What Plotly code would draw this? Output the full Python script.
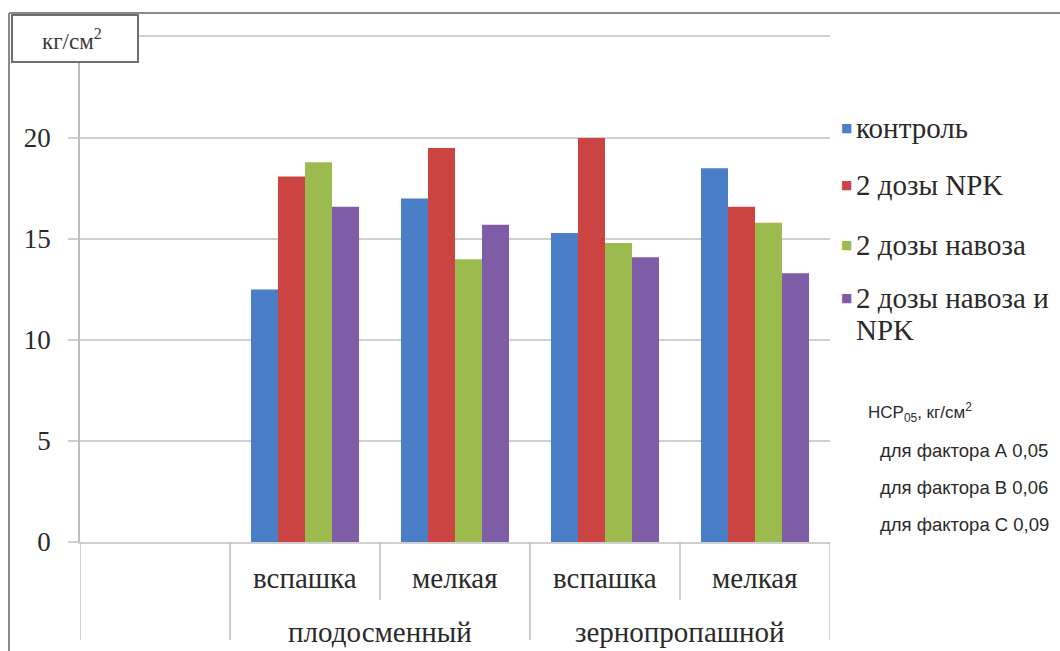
import numpy as np
import plotly.graph_objects as go

# data (кг/см2)
series = ["контроль", "2 дозы NPK", "2 дозы навоза", "2 дозы навоза и", "NPK"]
colors = ["#4A7EC6", "#CC4441", "#9CBB4E", "#7F5CA6"]
tillage = ["вспашка", "мелкая", "вспашка", "мелкая"]
rotation = ["плодосменный", "зернопропашной"]
kontrol = [12.5, 17.0, 15.3, 18.5]
npk2 = [18.1, 19.5, 20.0, 16.6]
navoz2 = [18.8, 14.0, 14.8, 15.8]
navoz_npk2 = [16.6, 15.7, 14.1, 13.3]
values = [kontrol, npk2, navoz2, navoz_npk2]
hsr_lines = ["для фактора А 0,05", "для фактора В 0,06", "для фактора С 0,09"]

W, H = 1060, 651
L, R, T, B = 80, 230, 37, 109


def px(x):
    return (x - L) / (W - L - R)


def py(y):
    return (H - B - y) / (H - B - T)


serif = "Liberation Serif, Times New Roman, serif"
narrow = "Liberation Sans Narrow, Arial Narrow, Liberation Sans, sans-serif"
txt = "#2a2a2a"

xpos = np.arange(1, len(tillage) + 1)
names = series[:3] + [series[3] + " " + series[4]]

fig = go.Figure()
for i, name in enumerate(names):
    fig.add_trace(go.Bar(x=xpos, y=values[i], name=name, marker_color=colors[i],
                         marker_line_width=0, showlegend=False))

shapes = []
# outer frame (top & left)
shapes.append(dict(type="line", xref="paper", yref="paper", x0=px(9), x1=px(W), y0=py(13), y1=py(13),
                   line=dict(color="#8a8a8a", width=2)))
shapes.append(dict(type="line", xref="paper", yref="paper", x0=px(9), x1=px(9), y0=py(13), y1=py(H),
                   line=dict(color="#8a8a8a", width=2)))
# category dividers
for b in [-0.5, 0.5, 2.5, 4.5]:
    shapes.append(dict(type="line", xref="x", yref="paper", x0=b, x1=b, y0=0, y1=py(640),
                       line=dict(color="#bdbdbd", width=1.5)))
for b in [1.5, 3.5]:
    shapes.append(dict(type="line", xref="x", yref="paper", x0=b, x1=b, y0=0, y1=py(600),
                       line=dict(color="#bdbdbd", width=1.5)))
# unit box
shapes.append(dict(type="rect", xref="paper", yref="paper", x0=px(12), x1=px(138), y0=py(62), y1=py(15),
                   fillcolor="white", line=dict(color="#6e6e6e", width=2), layer="above"))

annotations = []
for i, t in enumerate(tillage):
    annotations.append(dict(x=xpos[i], y=py(578), xref="x", yref="paper", text=t, showarrow=False,
                            xanchor="center", yanchor="middle",
                            font=dict(family=serif, size=29, color=txt)))
for j, r in enumerate(rotation):
    annotations.append(dict(x=1.5 + 2 * j, y=py(632), xref="x", yref="paper", text=r, showarrow=False,
                            xanchor="center", yanchor="middle",
                            font=dict(family=serif, size=29, color=txt)))
annotations.append(dict(x=px(72), y=py(39), xref="paper", yref="paper", text="кг/см<sup>2</sup>",
                        showarrow=False, xanchor="center", yanchor="middle",
                        font=dict(family=serif, size=23, color="#3a3a3a")))

# legend
leg_y = [128, 185, 245, 298, 330]
for i, name in enumerate(series):
    if i < len(colors):
        annotations.append(dict(x=px(846), y=py(leg_y[i]), xref="paper", yref="paper", text="■",
                                showarrow=False, xanchor="center", yanchor="middle",
                                font=dict(family="DejaVu Sans", size=12, color=colors[i])))
    annotations.append(dict(x=px(854), y=py(leg_y[i]), xref="paper", yref="paper", text=name,
                            showarrow=False, xanchor="left", yanchor="middle",
                            font=dict(family=serif, size=29, color=txt)))

annotations.append(dict(x=px(866), y=py(412), xref="paper", yref="paper", xanchor="left", yanchor="middle",
                        text="НСР<sub>05</sub>, кг/см<sup>2</sup>", showarrow=False,
                        font=dict(family=narrow, size=17, color=txt)))
for k, t in enumerate(hsr_lines):
    annotations.append(dict(x=px(878), y=py(450 + 37 * k), xref="paper", yref="paper",
                            xanchor="left", yanchor="middle",
                            text=t, showarrow=False, font=dict(family=narrow, size=18.5, color=txt)))

fig.update_layout(
    width=W, height=H,
    margin=dict(l=L, r=R, t=T, b=B, autoexpand=False),
    paper_bgcolor="white", plot_bgcolor="white",
    barmode="group", bargap=0.28, bargroupgap=0,
    showlegend=False,
    shapes=shapes, annotations=annotations,
    xaxis=dict(range=[-0.5, 4.5], showticklabels=False, ticks="", showgrid=False, zeroline=False,
               showline=True, mirror=True, linecolor="#cfcfcf", linewidth=1.5),
    yaxis=dict(range=[0, 25], tickvals=[0, 5, 10, 15, 20],
               showgrid=True, gridcolor="#cfcfcf", gridwidth=1.5, zeroline=False,
               showline=True, linecolor="#bdbdbd", linewidth=1.5,
               ticks="outside", ticklen=10, tickcolor="#cfcfcf", tickwidth=1.5, ticklabelstandoff=12,
               tickfont=dict(family=serif, size=27, color=txt)),
)

fig.write_html("out.html", config={"displayModeBar": False},
               post_script="document.body.style.margin='0';")
